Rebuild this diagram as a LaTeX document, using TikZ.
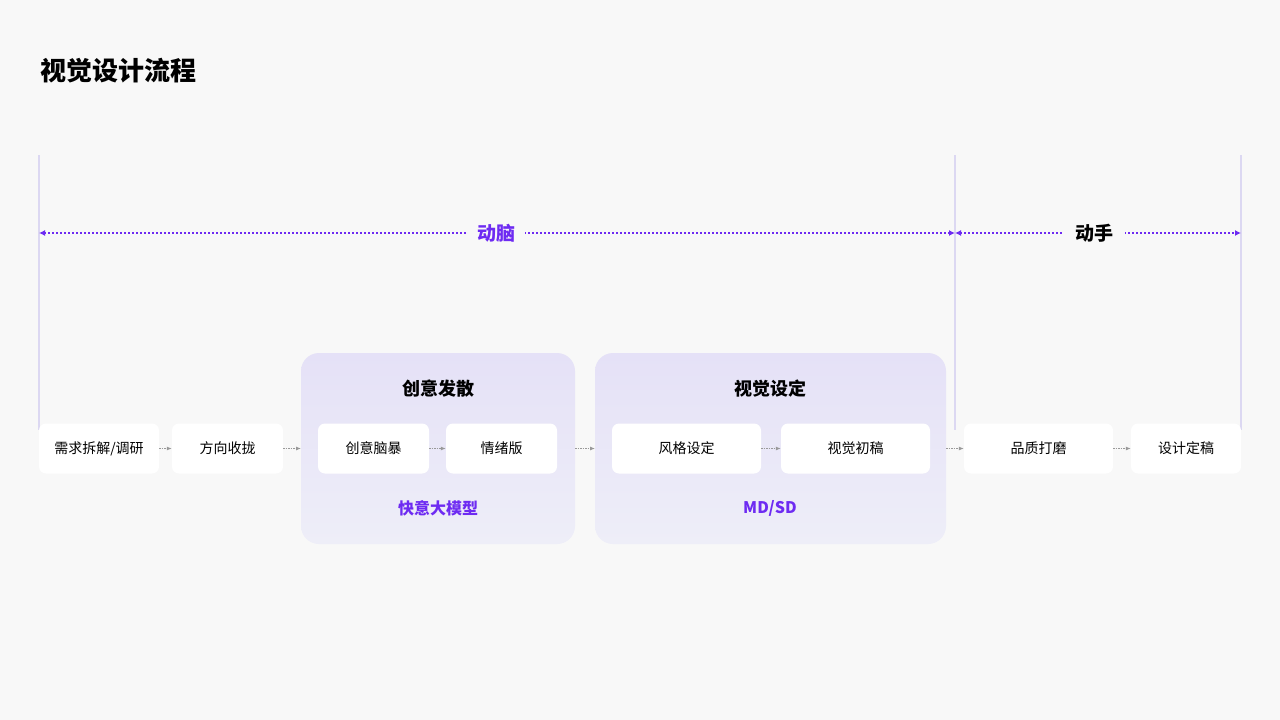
\documentclass[tikz,border=0pt]{standalone}
\usepackage{fontspec}
\setmainfont{Noto Sans CJK SC}
\usetikzlibrary{positioning,arrows.meta}
\definecolor{bgcol}{HTML}{F8F8F8}
\definecolor{purp}{HTML}{6E2BF2}
\definecolor{lav}{HTML}{E5E1F7}
\definecolor{lavb}{HTML}{EEEEF8}
\definecolor{vline}{HTML}{DCD8F2}
\tikzset{
  stage/.style={fill=white, rounded corners=7pt, minimum height=50pt, font=\fontsize{14}{16}\selectfont, inner sep=0pt},
  group/.style={rounded corners=18pt, top color=lav, bottom color=lavb, draw=none},
  link/.style={-{Latex[length=5pt,width=4pt]}, gray!80, dash pattern=on 1.5pt off 1pt, line width=0.8pt},
  span/.style={{Latex[length=6pt,width=6pt]}-{Latex[length=6pt,width=6pt]}, purp, dash pattern=on 2pt off 2pt, line width=1.2pt}
}
\begin{document}
\begin{tikzpicture}[x=1pt,y=-1pt]
  \fill[bgcol] (0,0) rectangle (1280,720);
  \useasboundingbox (0,0) rectangle (1280,720);

  % title
  \node[anchor=west, font=\fontsize{26}{30}\selectfont\bfseries] (title) at (37,71) {视觉设计流程};

  % vertical guides
  \foreach \x/\n in {39/va, 955/vb, 1241/vc} {
    \coordinate (\n t) at (\x,155);
    \coordinate (\n b) at (\x,430);
    \draw[vline, line width=1.2pt] (\n t) -- (\n b);
  }

  % groups
  \draw[group] (301,353) rectangle (575,544);
  \draw[group] (595,353) rectangle (946,544);
  \node[font=\fontsize{18}{20}\selectfont\bfseries] (g1) at (438,389) {创意发散};
  \node[font=\fontsize{18}{20}\selectfont\bfseries] (g2) at (770,389) {视觉设定};
  \node[font=\fontsize{16}{18}\selectfont\bfseries, text=purp] (g1b) at (438,508) {快意大模型};
  \node[font=\fontsize{16}{18}\selectfont\bfseries, text=purp] (g2b) at (770,508) {MD/SD};

  % steps
  \node[stage, minimum width=120pt] (s1) at (99,448.5) {需求拆解/调研};
  \node[stage, minimum width=111pt] (s2) at (227.5,448.5) {方向收拢};
  \node[stage, minimum width=111pt] (s3) at (373.5,448.5) {创意脑暴};
  \node[stage, minimum width=111pt] (s4) at (501.5,448.5) {情绪版};
  \node[stage, minimum width=149pt] (s5) at (686.5,448.5) {风格设定};
  \node[stage, minimum width=149pt] (s6) at (855.5,448.5) {视觉初稿};
  \node[stage, minimum width=149pt] (s7) at (1038.5,448.5) {品质打磨};
  \node[stage, minimum width=110pt] (s8) at (1186,448.5) {设计定稿};

  % connectors
  \draw[link] (s1) -- (s2);
  \draw[link] (s2) -- (301,448.5);
  \draw[link] (s3) -- (s4);
  \draw[link] (575,448.5) -- (595,448.5);
  \draw[link] (s5) -- (s6);
  \draw[link] (946,448.5) -- (s7);
  \draw[link] (s7) -- (s8);

  % phases
  \coordinate (pa) at (39,233);
  \coordinate (pb) at (955,233);
  \coordinate (pc) at (1241,233);
  \draw[span] (pa) -- (pb);
  \draw[span] (pb) -- (pc);
  \node[fill=bgcol, inner xsep=10pt, font=\fontsize{19}{22}\selectfont\bfseries, text=purp] (think) at (496,233) {动脑};
  \node[fill=bgcol, inner xsep=12pt, font=\fontsize{19}{22}\selectfont\bfseries] (make) at (1094,233) {动手};
\end{tikzpicture}
\end{document}
